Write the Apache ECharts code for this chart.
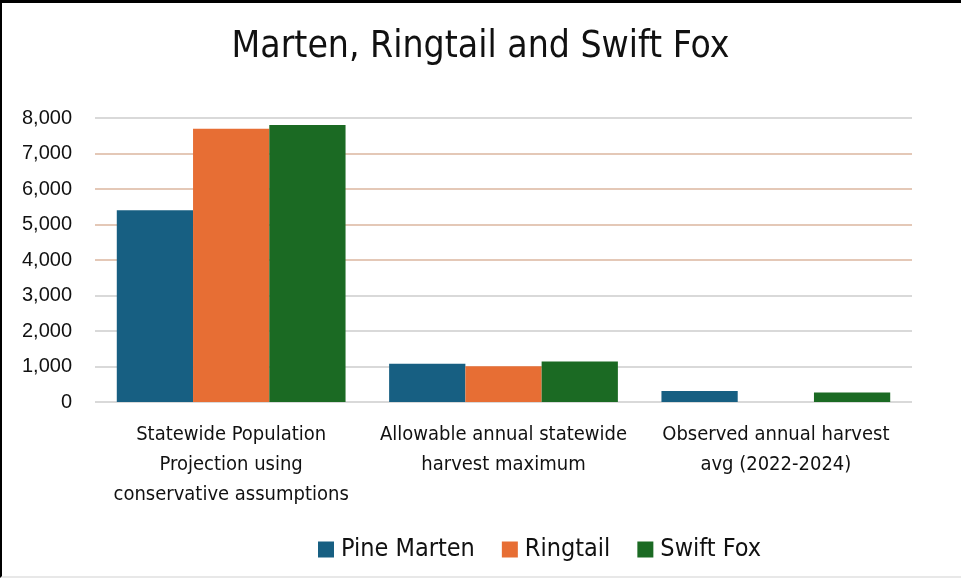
<!DOCTYPE html>
<html>
<head>
<meta charset="utf-8">
<script src="https://cdn.jsdelivr.net/npm/echarts@6/dist/echarts.min.js"></script>
<style>
  html, body { margin: 0; padding: 0; background: #fff; }
  #wrap { position: relative; width: 961px; height: 578px; }
  #chart { position: absolute; left: 0; top: 0; width: 961px; height: 578px; }
  #frame { position: absolute; left: 0; top: 0; width: 961px; height: 578px; box-sizing: border-box;
           border-top: 3px solid #000; border-left: 2px solid #000; border-bottom: 2px solid #e8e8e8;
           pointer-events: none; }
</style>
</head>
<body>
<div id="wrap">
  <div id="chart"></div>
  <div id="frame"></div>
</div>
<script>
// Categories (axis labels, wrapped as displayed)
const categories = [
  'Statewide Population\nProjection using\nconservative assumptions',
  'Allowable annual statewide\nharvest maximum',
  'Observed annual harvest\navg (2022-2024)'
];
const seriesNames = ['Pine Marten', 'Ringtail', 'Swift Fox'];
const pineMarten = [5400, 1080, 310];
const ringtail   = [7700, 1010, 0];
const swiftFox   = [7800, 1140, 270];
const yTicks = [0, 1000, 2000, 3000, 4000, 5000, 6000, 7000, 8000];

const colors = ['#175F82', '#E76E34', '#1B6A23'];
const narrow = '"Liberation Sans Narrow", "DejaVu Sans Condensed", "Roboto Condensed", sans-serif';

// Gridline tint per tick, bottom to top
const gridColors = ['#d9d9d9', '#d9d9d9', '#d9d9d9', '#d9d9d9', '#e4c8b7', '#e4c8b7', '#e4c8b7', '#e4c8b7', '#d9d9d9'];

const chart = echarts.init(document.getElementById('chart'), null, { renderer: 'canvas' });

const values = [pineMarten, ringtail, swiftFox];

chart.setOption({
  animation: false,
  backgroundColor: '#fff',
  title: {
    text: 'Marten, Ringtail and Swift Fox',
    left: 'center',
    top: 24,
    textStyle: { fontFamily: narrow, fontSize: 37, fontWeight: 'normal', color: '#111' }
  },
  legend: {
    data: seriesNames,
    left: 313,
    top: 532,
    itemWidth: 16,
    itemHeight: 16,
    itemGap: 27,
    icon: 'rect',
    textStyle: { fontFamily: narrow, fontSize: 25, color: '#111', padding: [0, 0, 0, 2] }
  },
  grid: { left: 95, right: 49, top: 118, bottom: 176 },
  xAxis: {
    type: 'category',
    data: categories,
    axisLine: { show: false },
    axisTick: { show: false },
    axisLabel: {
      margin: 18,
      fontFamily: narrow,
      fontSize: 20,
      lineHeight: 30,
      color: '#111',
      interval: 0
    }
  },
  yAxis: {
    type: 'value',
    min: yTicks[0],
    max: yTicks[yTicks.length - 1],
    interval: 1000,
    axisLine: { show: false },
    axisTick: { show: false },
    axisLabel: {
      margin: 23,
      fontFamily: '"Liberation Sans", Arial, sans-serif',
      fontSize: 20,
      color: '#111',
      formatter: v => v.toLocaleString('en-US')
    },
    splitLine: { lineStyle: { color: gridColors, width: 2 } }
  },
  series: seriesNames.map((name, i) => ({
    name,
    type: 'bar',
    data: values[i],
    barGap: '0%',
    barCategoryGap: '16%',
    itemStyle: { color: colors[i] }
  }))
});
</script>
</body>
</html>
